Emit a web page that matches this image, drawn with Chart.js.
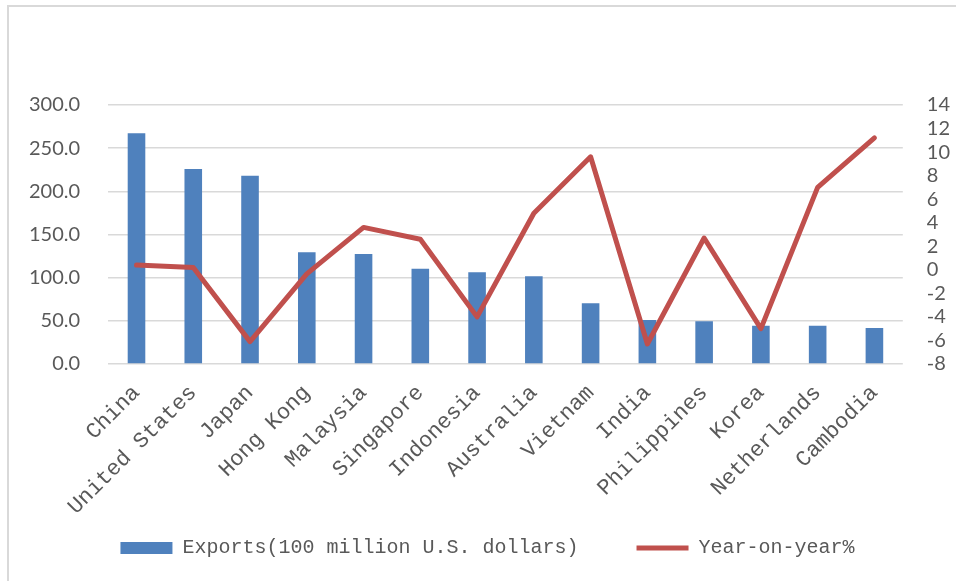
<!DOCTYPE html>
<html>
<head>
<meta charset="utf-8">
<script src="https://cdn.jsdelivr.net/npm/chart.js@4"></script>
<style>
  html, body { margin: 0; padding: 0; background: #fff; }
  #wrap { position: relative; width: 956px; height: 581px; }
  #frame { position: absolute; left: 7px; top: 5px; width: 949px; height: 576px;
           border-top: 2px solid #d9d9d9; border-left: 2px solid #d9d9d9; box-sizing: border-box; pointer-events: none; }
  canvas { position: absolute; left: 0; top: 0; }
</style>
</head>
<body>
<div id="wrap">
  <canvas id="c" width="956" height="581"></canvas>
  <div id="frame"></div>
</div>
<script>
const categories = ["China", "United States", "Japan", "Hong Kong", "Malaysia", "Singapore", "Indonesia",
                    "Australia", "Vietnam", "India", "Philippines", "Korea", "Netherlands", "Cambodia"];
const exportsValues = [267.3, 226.0, 218.0, 129.4, 127.5, 110.3, 106.2, 101.5, 70.4, 51.0, 49.4, 44.4, 44.4, 41.7];
const yoyValues = [0.4, 0.2, -6.1, -0.35, 3.6, 2.6, -4.0, 4.8, 9.6, -6.3, 2.7, -5.0, 7.0, 11.2];
const exportsLabel = "Exports(100 million U.S. dollars)";
const yoyLabel = "Year-on-year%";
const leftTicks = { min: 0, max: 300, step: 50 };
const rightTicks = { min: -8, max: 14, step: 2 };

const BLUE = "#4f81bd";
const RED = "#c0504d";
const TXT = "#595959";
const monoFont = "'Liberation Mono', 'DejaVu Sans Mono', monospace";
const sansFont = "Lato, 'Open Sans', sans-serif";

new Chart(document.getElementById("c"), {
  type: "bar",
  data: {
    labels: categories,
    datasets: [
      {
        type: "bar",
        label: exportsLabel,
        data: exportsValues,
        backgroundColor: BLUE,
        borderWidth: 0,
        barPercentage: 0.31,
        categoryPercentage: 1.0,
        yAxisID: "y",
        order: 2
      },
      {
        type: "line",
        label: yoyLabel,
        data: yoyValues,
        borderColor: RED,
        backgroundColor: RED,
        borderWidth: 5,
        pointRadius: 0,
        pointHoverRadius: 0,
        tension: 0,
        borderJoinStyle: "round",
        borderCapStyle: "round",
        yAxisID: "y1",
        order: 1
      }
    ]
  },
  options: {
    responsive: false,
    animation: false,
    devicePixelRatio: 1,
    layout: { padding: { left: 1, right: -18, top: 105, bottom: 13 } },
    plugins: {
      tooltip: { enabled: false },
      legend: {
        position: "bottom",
        labels: {
          font: { family: monoFont, size: 20 },
          color: TXT,
          usePointStyle: true,
          pointStyleWidth: 52,
          boxWidth: 52,
          boxHeight: 12,
          padding: 10,
          generateLabels: (chart) => {
            const ds = chart.data.datasets;
            return [
              { text: ds[0].label + "    ", fillStyle: BLUE, strokeStyle: BLUE, lineWidth: 0,
                pointStyle: "rect", fontColor: TXT, datasetIndex: 0, hidden: false },
              { text: ds[1].label, fillStyle: RED, strokeStyle: RED, lineWidth: 5,
                pointStyle: "line", fontColor: TXT, datasetIndex: 1, hidden: false }
            ];
          }
        }
      }
    },
    scales: {
      x: {
        grid: { display: false, drawTicks: false },
        border: { display: false },
        afterFit: (scale) => { scale.height -= 8; },
        ticks: {
          autoSkip: false,
          maxRotation: 45,
          minRotation: 45,
          padding: 16,
          color: TXT,
          font: { family: monoFont, size: 22 }
        }
      },
      y: {
        position: "left",
        min: leftTicks.min,
        max: leftTicks.max,
        grid: { color: "#d9d9d9", lineWidth: 1.5, drawTicks: false },
        border: { display: false },
        ticks: {
          stepSize: leftTicks.step,
          padding: 28,
          color: TXT,
          font: { family: sansFont, size: 20 },
          callback: (v) => Number(v).toFixed(1)
        }
      },
      y1: {
        position: "right",
        min: rightTicks.min,
        max: rightTicks.max,
        grid: { display: false, drawTicks: false },
        border: { display: false },
        ticks: {
          stepSize: rightTicks.step,
          autoSkip: false,
          padding: 24,
          color: TXT,
          font: { family: sansFont, size: 20 }
        }
      }
    }
  }
});
</script>
</body>
</html>
